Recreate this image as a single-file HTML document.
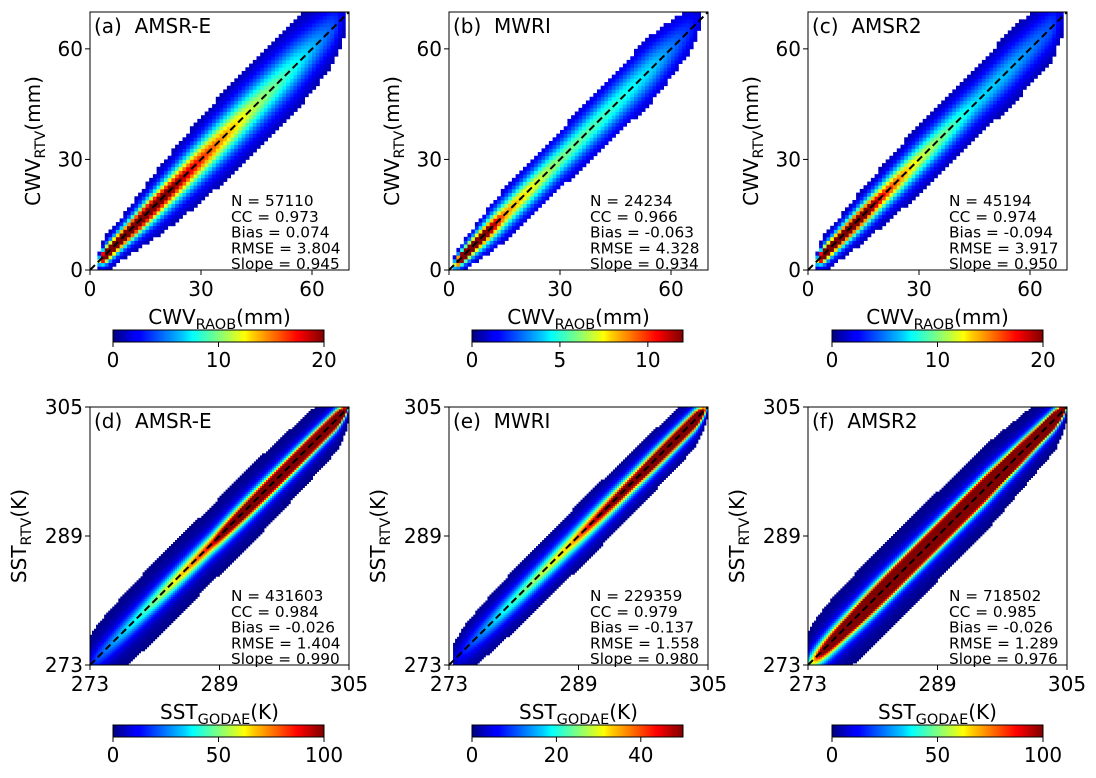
<!DOCTYPE html>
<html><head><meta charset="utf-8"><style>
body{margin:0;background:#fff}
svg text{font-family:"DejaVu Sans","Liberation Sans",sans-serif;fill:#000}
</style></head><body>
<svg id="root" xmlns="http://www.w3.org/2000/svg" width="1096" height="773" viewBox="0 0 1096 773">
<defs>
<linearGradient id="jet" x1="0" x2="1" y1="0" y2="0">
<stop offset="0" stop-color="#00007f"/><stop offset="0.11" stop-color="#0000ff"/><stop offset="0.125" stop-color="#0000ff"/>
<stop offset="0.34" stop-color="#00d0ff"/><stop offset="0.375" stop-color="#00ffff"/><stop offset="0.5" stop-color="#7fff7f"/>
<stop offset="0.625" stop-color="#ffff00"/><stop offset="0.66" stop-color="#ffd000"/><stop offset="0.875" stop-color="#ff0000"/>
<stop offset="1" stop-color="#7f0000"/></linearGradient>
</defs>
<g id="plots"></g>
</svg>
<script>
// Panel metadata
const panelLabels = ["(a)\u00a0 AMSR-E","(b)\u00a0 MWRI","(c)\u00a0 AMSR2","(d)\u00a0 AMSR-E","(e)\u00a0 MWRI","(f)\u00a0 AMSR2"];
const statN = ["57110","24234","45194","431603","229359","718502"];
const statCC = ["0.973","0.966","0.974","0.984","0.979","0.985"];
const statBias = ["0.074","-0.063","-0.094","-0.026","-0.137","-0.026"];
const statRMSE = ["3.804","4.328","3.917","1.404","1.558","1.289"];
const statSlope = ["0.945","0.934","0.950","0.990","0.980","0.976"];
const cbMax = [20,12,20,100,50,100];
const cbTicks = [[0,10,20],[0,5,10],[0,10,20],[0,50,100],[0,20,40],[0,50,100]];
const axisTicksTop = [0,30,60];
const axisTicksBottom = [273,289,305];
// density profile along the diagonal: sample x, peak count, spread
const profX = [[2,4,10,20,30,45,55,66,69],[1,3,8,15,30,45,55,65,68],[2,4,10,20,30,45,55,66,69],
  [272.5,274,280,288,296,303.5,305],[273.5,275,280,288,296,303.5,305],[272.5,273.5,278,285,295,303.5,305]];
const profPeak = [[3,35,30,22,17,11,8,4,1.5],[3,18,16,9,6,5,4,2,1],[3,35,30,18,12,7,6,4,1.5],
  [10,20,45,90,250,400,10],[3,8,20,35,70,150,5],[30,60,250,700,900,600,15]];
const profSpread = [[1.5,2.2,3,5,6.5,8.5,9.5,9.5,8],[1.5,2,3,5,6.5,8,9,9,8],[1.5,2.2,3,4.5,6,7.5,8.5,9,8],
  [2.2,2.2,2,1.6,1.2,0.9,0.8],[2.2,2.2,2,1.8,1.4,1.0,0.8],[1.7,1.7,1.4,1.1,1.0,0.8,0.7]];

const NS="http://www.w3.org/2000/svg";
const root=document.getElementById('plots');
function mk(tag,attrs,parent){const e=document.createElementNS(NS,tag);for(const k in attrs)e.setAttribute(k,attrs[k]);(parent||root).appendChild(e);return e;}
function clamp(v){return Math.max(0,Math.min(1,v));}
function jet(v){v=clamp(v);const r=clamp(1.5-Math.abs(4*v-3)),g=clamp(1.5-Math.abs(4*v-2)),b=clamp(1.5-Math.abs(4*v-1));
 return `rgb(${Math.round(r*255)},${Math.round(g*255)},${Math.round(b*255)})`;}
function interp(xs,ys,x){if(x<=xs[0])return ys[0];for(let i=1;i<xs.length;i++){if(x<=xs[i]){const t=(x-xs[i-1])/(xs[i]-xs[i-1]);return ys[i-1]+t*(ys[i]-ys[i-1]);}}return ys[ys.length-1];}

const colL=[90,449,808], rowT=[12,407], W=259, H=258, cbL=[113,472,832], cbT=[330,725], cbW=211;

for(let p=0;p<6;p++){
 const col=p%3,row=Math.floor(p/3);
 const L=colL[col],T=rowT[row];
 const lo=row?273:0, hi=row?305:70, bin=row?0.25:1;
 const xs=v=>L+(v-lo)/(hi-lo)*W, ys=v=>T+H-(v-lo)/(hi-lo)*H;
 const g=mk('g',{});
 
 
 const cells=mk('g',{},g);
 
 
 const px=profX[p], x0=px[0], x1=px[px.length-1];
 for(let x=lo;x<hi;x+=bin){
  const xc=x+bin/2; if(xc<x0||xc>x1)continue;
  const pk=interp(px,profPeak[p],xc), sp=interp(px,profSpread[p],xc);
  for(let y=lo;y<hi;y+=bin){
   const yc=y+bin/2, d=(yc-xc)/sp;
   const q=1+d*d;
   const dens=pk/(q*q);
   if(dens<1)continue;
   const r=mk('rect',{x:xs(x).toFixed(2),y:ys(y+bin).toFixed(2),width:(W*bin/(hi-lo)+0.4).toFixed(2),height:(H*bin/(hi-lo)+0.4).toFixed(2),fill:jet(dens/cbMax[p])},cells);
   
   
  }
 }
 const dl=mk('line',{x1:xs(lo),y1:ys(lo),x2:xs(hi),y2:ys(hi),stroke:'#000','stroke-width':2,'stroke-dasharray':'7,4'},g);
 
 
 const fr=mk('rect',{x:L,y:T,width:W,height:H,fill:'none',stroke:'#000','stroke-width':1},g);
 
 
 const ticks=row?axisTicksBottom:axisTicksTop;
 ticks.forEach(t=>{
  mk('line',{x1:xs(t),x2:xs(t),y1:T+H,y2:T+H+5,stroke:'#000'},g);
  mk('line',{x1:L,x2:L-5,y1:ys(t),y2:ys(t),stroke:'#000'},g);
  const tx=mk('text',{x:xs(t),y:T+H+26,'font-size':20,'text-anchor':'middle'},g);tx.textContent=t;
  
  const ty=mk('text',{x:L-7,y:ys(t)+7,'font-size':20,'text-anchor':'end'},g);ty.textContent=t;
  
 });
 const lab=mk('text',{x:L+4,y:T+21,'font-size':20},g);lab.textContent=panelLabels[p];
 
 const st=mk('g',{},g);
 
 
 const lines=['N = '+statN[p],'CC = '+statCC[p],'Bias = '+statBias[p],'RMSE = '+statRMSE[p],'Slope = '+statSlope[p]];
 lines.forEach((s,i)=>{const t=mk('text',{x:L+141,y:T+194+i*15.8,'font-size':15.3},st);t.textContent=s;});
 const q=row?'SST':'CWV', unit=row?'(K)':'(mm)', subX=row?'GODAE':'RAOB';
 const xl=mk('text',{x:L+W/2,y:T+H+54,'font-size':20,'text-anchor':'middle'},g);
 xl.innerHTML=q+'<tspan font-size="14.5" dy="5">'+subX+'</tspan><tspan dy="-5">'+unit+'</tspan>';
 
 const yx=L-(row?64:50), yy=T+H/2;
 const yl=mk('text',{x:0,y:0,'font-size':20,'text-anchor':'middle',transform:`translate(${yx},${yy}) rotate(-90)`},g);
 yl.innerHTML=q+'<tspan font-size="14.5" dy="5">RTV</tspan><tspan dy="-5">'+unit+'</tspan>';
 
 // colorbar
 const cb=mk('g',{},g);
 
 
 const CL=cbL[col],CT=cbT[row];
 mk('rect',{x:CL,y:CT,width:cbW,height:12,fill:'url(#jet)',stroke:'#000','stroke-width':1},cb);
 cbTicks[p].forEach(t=>{const cx=CL+t/cbMax[p]*cbW;
  mk('line',{x1:cx,x2:cx,y1:CT+12,y2:CT+17,stroke:'#000'},cb);
  const tt=mk('text',{x:cx,y:CT+37,'font-size':20,'text-anchor':'middle'},cb);tt.textContent=t;
  });
}
</script>
</body></html>
